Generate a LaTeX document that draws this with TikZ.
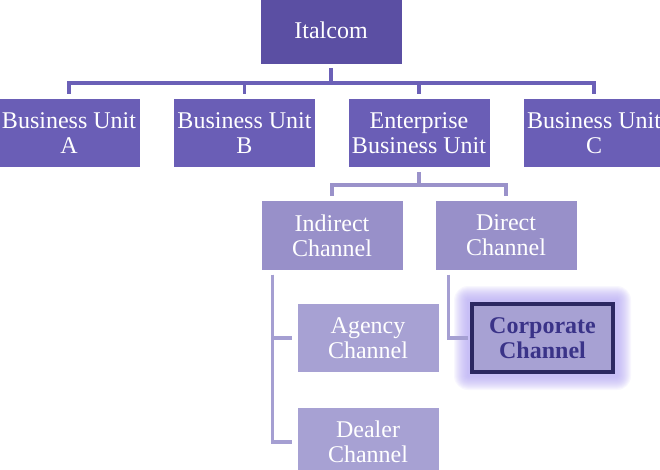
\documentclass[tikz,border=0pt]{standalone}
\usepackage{fontspec}
\setmainfont{Liberation Serif}
\pgfdeclarelayer{bg}
\pgfsetlayers{bg,main}
\definecolor{cTop}{HTML}{5B4FA3}
\definecolor{cOne}{HTML}{6A5EB6}
\definecolor{cTwo}{HTML}{9890C9}
\definecolor{cThree}{HTML}{A7A1D3}
\definecolor{lnOne}{HTML}{6B60B7}
\definecolor{lnTwo}{HTML}{9A92CA}
\definecolor{lnThree}{HTML}{A59FD2}
\definecolor{corpBorder}{HTML}{2C2862}
\definecolor{corpText}{HTML}{3A3388}
\definecolor{glowc}{HTML}{B3A6F2}
\begin{document}
\begin{tikzpicture}[x=1pt,y=-1pt,
  box/.style={minimum width=141pt, minimum height=68pt, inner sep=0pt, align=center,
    text=white, font=\fontsize{24}{25}\selectfont},
  boxtop/.style={box, fill=cTop},
  boxone/.style={box, fill=cOne},
  boxtwo/.style={box, fill=cTwo},
  boxthree/.style={box, fill=cThree},
  boxcorp/.style={box, fill=cThree, draw=corpBorder, line width=4pt, text=corpText,
    font=\fontsize{24}{25}\selectfont\bfseries},
  conn/.style={line width=3.5pt},
  connone/.style={conn, draw=lnOne},
  conntwo/.style={conn, draw=lnTwo},
  connthree/.style={conn, draw=lnThree}]
\useasboundingbox (0,0) rectangle (660,470);
\clip (0,0) rectangle (660,470);

\node[boxtop] (ital) at (331,30) {Italcom};
\node[boxone] (bua) at (69,133) {Business Unit\\A};
\node[boxone] (bub) at (244.5,133) {Business Unit\\B};
\node[boxone] (ebu) at (419,133) {Enterprise\\Business Unit};
\node[boxone] (buc) at (594,133) {Business Unit\\C};
\node[boxtwo] (ind) at (332,235.5) {Indirect\\Channel};
\node[boxtwo] (dir) at (506,235.5) {Direct\\Channel};
\node[boxthree] (agency) at (368,338) {Agency\\Channel};
\node[boxthree] (dealer) at (368,442) {Dealer\\Channel};
\node[boxcorp] (corp) at (542.5,338) {Corporate\\Channel};

\begin{pgfonlayer}{bg}
  \foreach \i in {1,...,14}{
    \fill[glowc, opacity=0.085, rounded corners=\i pt]
      ([shift={(-\i pt-2pt,-\i pt-2pt)}]corp.south west) rectangle
      ([shift={(\i pt+2pt,\i pt+2pt)}]corp.north east);
  }
\end{pgfonlayer}

\coordinate (busone) at (331,83);
\coordinate (bustwo) at (419,185);

\draw[connone, shorten <=4pt] (ital.south) -- (ital.south |- busone);
\foreach \c in {bua,bub,ebu,buc}{
  \draw[connone, shorten >=5pt] (ital.south |- busone) -| (\c.north);
}
\draw[conntwo, shorten <=5pt] (ebu.south) -- (ebu.south |- bustwo);
\foreach \c in {ind,dir}{
  \draw[conntwo, shorten >=5pt] (ebu.south |- bustwo) -| (\c.north);
}
\draw[connthree, shorten <=5pt, shorten >=5pt] ([xshift=11pt]ind.south west) |- (agency.west);
\draw[connthree, shorten <=5pt, shorten >=5pt] ([xshift=11pt]ind.south west) |- (dealer.west);
\draw[connthree, shorten <=5pt, shorten >=2pt] ([xshift=13pt]dir.south west) |- (corp.west);
\end{tikzpicture}
\end{document}
